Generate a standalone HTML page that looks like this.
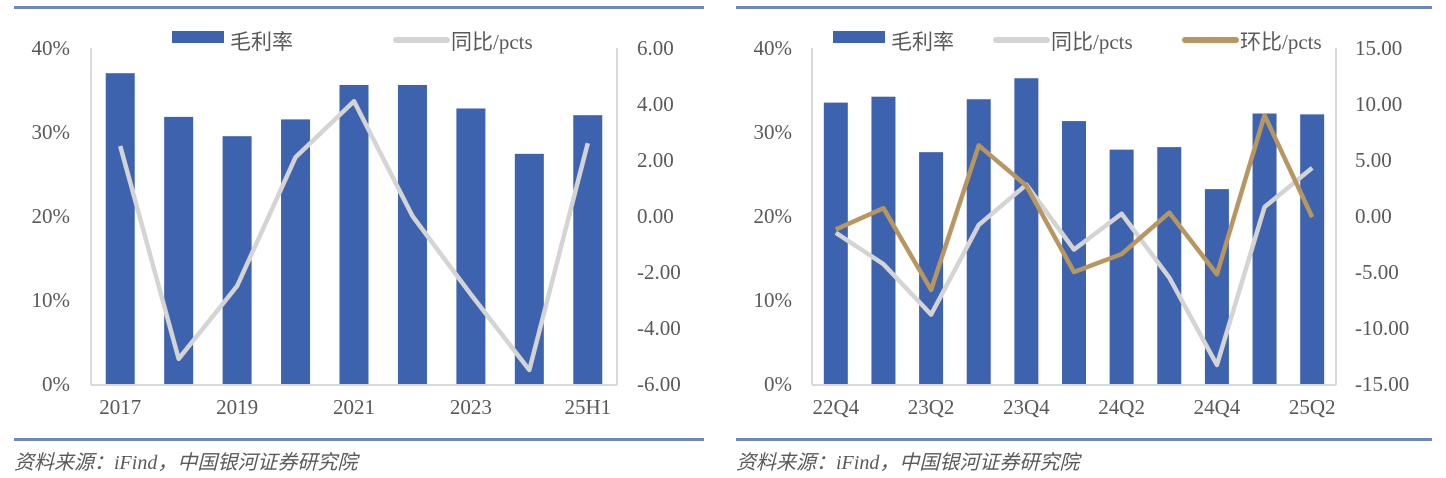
<!DOCTYPE html>
<html><head><meta charset="utf-8"><style>
body{margin:0;background:#fff;width:1446px;height:478px;overflow:hidden}
svg{display:block}
text{font-family:"Liberation Serif","Noto Serif CJK SC",serif;fill:#595959}
.cjk{font-family:"Liberation Serif","Noto Sans CJK SC",sans-serif}
</style></head><body>
<svg id="svg" width="1446" height="478">
<rect x="14" y="6" width="690" height="3" fill="#6f87c0"/>
<rect x="736" y="6" width="696" height="3" fill="#6f87c0"/>
<rect x="14" y="438" width="690" height="3" fill="#6f87c0"/>
<rect x="736" y="438" width="696" height="3" fill="#6f87c0"/>
<text x="14" y="469" font-size="20" font-style="italic" class="cjk">资料来源：iFind，中国银河证券研究院</text>
<text x="736" y="469" font-size="20" font-style="italic" class="cjk">资料来源：iFind，中国银河证券研究院</text>
<g id="left"></g>
<g id="right"></g>
</svg>
<script>
const leftCats=["2017","2018","2019","2020","2021","2022","2023","2024","25H1"];
const leftLabels=["2017","","2019","","2021","","2023","","25H1"];
const leftMargin=[37.0,31.8,29.5,31.5,35.6,35.6,32.8,27.4,32.0];
const leftYoy=[2.5,-5.1,-2.5,2.1,4.1,0.0,-2.8,-5.5,2.6];
const leftPctTicks=[0,10,20,30,40];
const leftRightTicks=[-6,-4,-2,0,2,4,6];

const rightCats=["22Q4","23Q1","23Q2","23Q3","23Q4","24Q1","24Q2","24Q3","24Q4","25Q1","25Q2"];
const rightLabels=["22Q4","","23Q2","","23Q4","","24Q2","","24Q4","","25Q2"];
const rightMargin=[33.5,34.2,27.6,33.9,36.4,31.3,27.9,28.2,23.2,32.2,32.1];
const rightYoy=[-1.5,-4.3,-8.8,-0.8,2.8,-3.0,0.2,-5.5,-13.3,0.8,4.3];
const rightQoq=[-1.2,0.7,-6.6,6.3,2.7,-5.0,-3.4,0.3,-5.2,9.0,-0.1];
const rightPctTicks=[0,10,20,30,40];
const rightRightTicks=[-15,-10,-5,0,5,10,15];

const NS="http://www.w3.org/2000/svg";
function mk(g,tag,attrs,txt){const e=document.createElementNS(NS,tag);for(const k in attrs)e.setAttribute(k,attrs[k]);if(txt!==undefined)e.textContent=txt;g.appendChild(e);return e;}

function draw(g,o){
  const top=48,bot=384,x0=o.x0,x1=o.x1;
  const band=(x1-x0)/o.cats.length;
  const xc=i=>x0+band*(i+0.5);
  const yL=v=>bot-(v/40)*(bot-top);
  const yR=v=>bot-(v-o.rmin)/(o.rmax-o.rmin)*(bot-top);
  o.pct.forEach(t=>{const e=mk(g,'text',{x:o.lx,y:yL(t)+7,'font-size':21,'text-anchor':'end'},t+'%');
    
    });
  o.rt.forEach(t=>{const e=mk(g,'text',{x:o.rx,y:yR(t)+7,'font-size':21},t.toFixed(2));
    
    });
  o.margin.forEach((v,i)=>{const e=mk(g,'rect',{x:xc(i)-o.bw/2,y:yL(v),width:o.bw,height:bot-yL(v),fill:'#3d63ae'});
    
    });
  let a=mk(g,'line',{x1:x0,y1:bot+1,x2:x1,y2:bot+1,stroke:'#d9d9d9','stroke-width':2});
  
  
  a=mk(g,'line',{x1:x0,y1:top,x2:x0,y2:bot+1,stroke:'#d9d9d9','stroke-width':2});
  
  
  a=mk(g,'line',{x1:x1,y1:top,x2:x1,y2:bot+1,stroke:'#d9d9d9','stroke-width':2});
  
  
  o.series.forEach(s=>{const p=mk(g,'polyline',{points:s.data.map((v,i)=>xc(i)+','+yR(v)).join(' '),fill:'none',stroke:s.color,'stroke-width':4.5,'stroke-linejoin':'round'});
    
    });
  o.labels.forEach((l,i)=>{if(!l)return;const e=mk(g,'text',{x:xc(i),y:414,'font-size':21,'text-anchor':'middle'},l);
    
    });
  o.legend.forEach(L=>{let s;
    if(L.type==='rect')s=mk(g,'rect',{x:L.x,y:31,width:52,height:12,fill:'#3d63ae'});
    else s=mk(g,'line',{x1:L.x+3,y1:40,x2:L.x+54,y2:40,stroke:L.color,'stroke-width':6,'stroke-linecap':'round'});
    
    
    const t=mk(g,'text',{x:L.x+58,y:49,'font-size':21,class:'cjk'},L.text);
    
    });
}
draw(document.getElementById('left'),{x0:91,x1:617,cats:leftCats,labels:leftLabels,margin:leftMargin,bw:29,rmin:-6,rmax:6,pct:leftPctTicks,rt:leftRightTicks,lx:70,rx:637,
  series:[{name:'yoy-line',data:leftYoy,color:'#d4d4d4'}],
  legend:[{type:'rect',x:172,text:'毛利率'},{type:'line',x:393,color:'#d4d4d4',text:'同比/pcts'}]});
draw(document.getElementById('right'),{x0:812,x1:1336,cats:rightCats,labels:rightLabels,margin:rightMargin,bw:24,rmin:-15,rmax:15,pct:rightPctTicks,rt:rightRightTicks,lx:792,rx:1355,
  series:[{name:'yoy-line',data:rightYoy,color:'#d4d4d4'},{name:'qoq-line',data:rightQoq,color:'#b8965f'}],
  legend:[{type:'rect',x:833,text:'毛利率'},{type:'line',x:993,color:'#d4d4d4',text:'同比/pcts'},{type:'line',x:1182,color:'#b8965f',text:'环比/pcts'}]});
</script>
</body></html>
